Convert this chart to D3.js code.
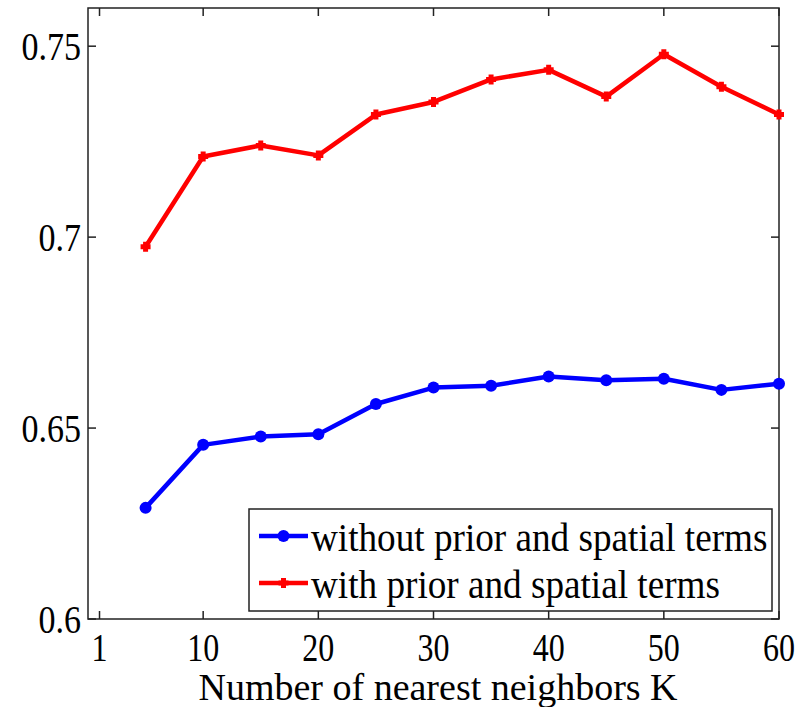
<!DOCTYPE html>
<html>
<head>
<meta charset="utf-8">
<script src="https://cdn.jsdelivr.net/npm/d3@7"></script>
<style>
  body { margin: 0; background: #fff; }
  text { font-family: "Liberation Serif", "Times New Roman", serif; fill: #000; }
</style>
</head>
<body>
<div id="chart"></div>
<script>
// neighbours K and the two accuracy curves
var kValues = [5, 10, 15, 20, 25, 30, 35, 40, 45, 50, 55, 60];
var withoutTerms = [0.6291, 0.6456, 0.6478, 0.6484, 0.6563, 0.6606, 0.6611, 0.6635, 0.6625, 0.6629, 0.6600, 0.6616];
var withTerms = [0.6975, 0.7211, 0.7240, 0.7214, 0.7321, 0.7354, 0.7413, 0.7438, 0.7368, 0.7479, 0.7394, 0.7321];
var xTicks = [1, 10, 20, 30, 40, 50, 60];
var yTicks = [0.6, 0.65, 0.7, 0.75];
var seriesNames = ['without prior and spatial terms', 'with prior and spatial terms'];

var width = 800, height = 707;
var pLeft = 88, pRight = 779, pTop = 8, pBottom = 619;

var x = d3.scaleLinear().domain([0, 60]).range([pLeft, pRight]);
var y = d3.scaleLinear().domain([0.6, 0.76]).range([pBottom, pTop]);

var svg = d3.select('#chart').append('svg')
    .attr('width', width)
    .attr('height', height);

// squeezed serif text, the figure's font is narrower than Liberation
function label(g, tx, ty, size, sx, anchor, str) {
  return g.append('text')
    .attr('transform', 'translate(' + tx + ',' + ty + ') scale(' + sx + ',1)')
    .attr('text-anchor', anchor)
    .attr('font-size', size)
    .text(str);
}

// box
svg.append('rect')
  .attr('x', pLeft).attr('y', pTop)
  .attr('width', pRight - pLeft).attr('height', pBottom - pTop)
  .attr('fill', 'none').attr('stroke', '#222').attr('stroke-width', 1.5);

var tickLen = 8;

// bottom + top ticks
xTicks.forEach(function(t) {
  svg.append('line').attr('x1', x(t)).attr('x2', x(t)).attr('y1', pBottom).attr('y2', pBottom - tickLen)
    .attr('stroke', '#222').attr('stroke-width', 1.5);
  svg.append('line').attr('x1', x(t)).attr('x2', x(t)).attr('y1', pTop).attr('y2', pTop + tickLen)
    .attr('stroke', '#222').attr('stroke-width', 1.5);
  label(svg, x(t), 661, 40, 0.8, 'middle', t);
});

// left + right ticks
yTicks.forEach(function(t) {
  svg.append('line').attr('x1', pLeft).attr('x2', pLeft + tickLen).attr('y1', y(t)).attr('y2', y(t))
    .attr('stroke', '#222').attr('stroke-width', 1.5);
  svg.append('line').attr('x1', pRight).attr('x2', pRight - tickLen).attr('y1', y(t)).attr('y2', y(t))
    .attr('stroke', '#222').attr('stroke-width', 1.5);
  label(svg, 81, y(t) + 14, 41, 0.83, 'end', String(t));
});

label(svg, 438, 700, 38, 1.0, 'middle', 'Number of nearest neighbors K');

var line = d3.line()
  .x(function(d, i) { return x(kValues[i]); })
  .y(function(d) { return y(d); });

// blue series
svg.append('path').datum(withoutTerms)
  .attr('d', line).attr('fill', 'none').attr('stroke', '#0000ff').attr('stroke-width', 4.5)
  .attr('stroke-linejoin', 'round');
svg.selectAll('.dotB').data(withoutTerms).enter().append('circle')
  .attr('cx', function(d, i) { return x(kValues[i]); })
  .attr('cy', function(d) { return y(d); })
  .attr('r', 6).attr('fill', '#0000ff');

// red series
svg.append('path').datum(withTerms)
  .attr('d', line).attr('fill', 'none').attr('stroke', '#ff0000').attr('stroke-width', 4.5)
  .attr('stroke-linejoin', 'round');
var plus = 'M-5,0H5M0,-5V5';
svg.selectAll('.plusR').data(withTerms).enter().append('path')
  .attr('transform', function(d, i) { return 'translate(' + x(kValues[i]) + ',' + y(d) + ')'; })
  .attr('d', plus).attr('stroke', '#ff0000').attr('stroke-width', 5);

// legend
var lg = svg.append('g');
lg.append('rect').attr('x', 249).attr('y', 509).attr('width', 523).attr('height', 102)
  .attr('fill', '#fff').attr('stroke', '#222').attr('stroke-width', 1.5);

var legendRows = [
  { name: seriesNames[0], color: '#0000ff', mark: 'circle', yy: 536 },
  { name: seriesNames[1], color: '#ff0000', mark: 'plus', yy: 583 }
];
legendRows.forEach(function(r) {
  lg.append('line').attr('x1', 259).attr('x2', 308).attr('y1', r.yy).attr('y2', r.yy)
    .attr('stroke', r.color).attr('stroke-width', 4.5);
  if (r.mark === 'circle') {
    lg.append('circle').attr('cx', 283.5).attr('cy', r.yy).attr('r', 6).attr('fill', r.color);
  } else {
    lg.append('path').attr('transform', 'translate(283.5,' + r.yy + ')')
      .attr('d', plus).attr('stroke', r.color).attr('stroke-width', 5);
  }
  label(lg, 311, r.yy + 15, 40, 0.93, 'start', r.name);
});
</script>
</body>
</html>
